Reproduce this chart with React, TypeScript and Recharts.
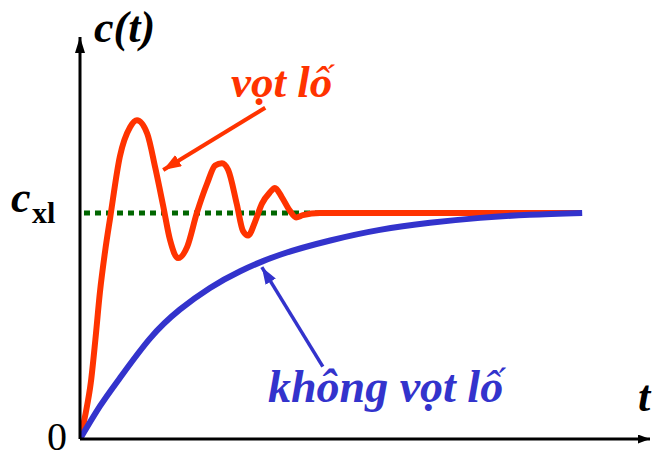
import { ComposedChart, Line, XAxis, YAxis, ReferenceLine } from "recharts";

// step response with overshoot (red)
const overshootT = [0, 0.1, 0.19, 0.27, 0.35, 0.44, 0.53, 0.7, 0.88, 1.0, 1.18, 1.32, 1.46, 1.58, 1.72, 1.88, 2.05, 2.23, 2.37, 2.49, 2.6, 2.75, 2.86, 2.95, 3.07, 3.19, 3.33, 3.42, 3.54, 3.68, 3.79, 3.91, 4.21, 5.5, 7.0, 8.8];
const overshootC = [0, 0.115, 0.25, 0.44, 0.65, 0.83, 0.98, 1.25, 1.38, 1.41, 1.35, 1.2, 1.03, 0.88, 0.8, 0.85, 1.0, 1.13, 1.21, 1.22, 1.19, 1.04, 0.92, 0.9, 0.96, 1.04, 1.09, 1.11, 1.07, 1.01, 0.98, 0.99, 1.0, 1.0, 1.0, 1.0];

// step response without overshoot (blue)
const smoothT = [0, 0.35, 0.7, 1.23, 1.75, 2.28, 2.81, 3.51, 4.39, 5.26, 6.14, 7.02, 7.89, 8.81];
const smoothC = [0, 0.145, 0.27, 0.445, 0.572, 0.668, 0.742, 0.815, 0.878, 0.925, 0.956, 0.978, 0.992, 1.0];

// steady-state level c_xl
const steadyT = [0.07, 8.8];
const steadyC = [1, 1];

const overshootData = overshootT.map((t, i) => ({ t, c: overshootC[i] }));
const smoothData = smoothT.map((t, i) => ({ t, c: smoothC[i] }));
const steadyData = steadyT.map((t, i) => ({ t, c: steadyC[i] }));

const RED = "#FF3300";
const BLUE = "#3333CC";
const GREEN = "#006600";
const FONT = "Liberation Serif";

export default function App() {
  return (
    <div style={{ position: "absolute", left: 0, top: 0, width: 652, height: 458, background: "#fff" }}>
      <svg width="0" height="0" style={{ position: "absolute" }}>
        <defs>
          <marker id="axArrowY" viewBox="0 0 10 10" refX="10" refY="5" markerWidth="16" markerHeight="10" markerUnits="userSpaceOnUse" orient="auto" preserveAspectRatio="none">
            <path d="M0,0 L10,5 L0,10 z" fill="#000" />
          </marker>
          <marker id="axArrowX" viewBox="0 0 10 10" refX="10" refY="5" markerWidth="12" markerHeight="9" markerUnits="userSpaceOnUse" orient="auto" preserveAspectRatio="none">
            <path d="M0,0 L10,5 L0,10 z" fill="#000" />
          </marker>
          <marker id="arrRed" viewBox="0 0 10 10" refX="10" refY="5" markerWidth="18" markerHeight="13" markerUnits="userSpaceOnUse" orient="auto" preserveAspectRatio="none">
            <path d="M0,0 L10,5 L0,10 z" fill={RED} />
          </marker>
          <marker id="arrBlue" viewBox="0 0 10 10" refX="10" refY="5" markerWidth="17" markerHeight="12" markerUnits="userSpaceOnUse" orient="auto" preserveAspectRatio="none">
            <path d="M0,0 L10,5 L0,10 z" fill={BLUE} />
          </marker>
        </defs>
      </svg>
      <ComposedChart width={652} height={458} margin={{ top: 37, right: 2, left: 80, bottom: 19 }}>
        <XAxis type="number" dataKey="t" domain={[0, 10]} allowDataOverflow hide />
        <YAxis type="number" dataKey="c" domain={[0, 1.778]} allowDataOverflow hide />
        <Line data={steadyData} dataKey="c" type="linear" stroke={GREEN} strokeWidth={5} strokeDasharray="6 5" dot={false} isAnimationActive={false} />
        <Line data={overshootData} dataKey="c" type="monotone" stroke={RED} strokeWidth={6} strokeLinejoin="round" dot={false} isAnimationActive={false} />
        <Line data={smoothData} dataKey="c" type="natural" stroke={BLUE} strokeWidth={6} dot={false} isAnimationActive={false} />
        {/* axes with arrows */}
        <ReferenceLine segment={[{ x: 0, y: 0 }, { x: 0, y: 1.778 }]} stroke="#000" strokeWidth={3} markerEnd="url(#axArrowY)" ifOverflow="visible" />
        <ReferenceLine segment={[{ x: 0, y: 0 }, { x: 10, y: 0 }]} stroke="#000" strokeWidth={3} markerEnd="url(#axArrowX)" ifOverflow="visible" />
        {/* annotation arrows */}
        <ReferenceLine segment={[{ x: 3.25, y: 1.465 }, { x: 1.46, y: 1.19 }]} stroke={RED} strokeWidth={4} markerEnd="url(#arrRed)" ifOverflow="visible" />
        <ReferenceLine segment={[{ x: 4.26, y: 0.32 }, { x: 3.19, y: 0.76 }]} stroke={BLUE} strokeWidth={3.5} markerEnd="url(#arrBlue)" ifOverflow="visible" />
      </ComposedChart>
      <svg width={652} height={458} style={{ position: "absolute", left: 0, top: 0, pointerEvents: "none" }}>
        <text x={94} y={42} fontFamily={FONT} fontSize={44} fontWeight="bold" fontStyle="italic" fill="#000">c(t)</text>
        <text x={638} y={411} fontFamily={FONT} fontSize={44} fontWeight="bold" fontStyle="italic" fill="#000">t</text>
        <text x={47} y={450} fontFamily={FONT} fontSize={40} fill="#000">0</text>
        <text x={11} y={212} fontFamily={FONT} fontSize={44} fontWeight="bold" fontStyle="italic" fill="#000">c</text>
        <text x={32} y={223} fontFamily={FONT} fontSize={30} fontWeight="bold" fill="#000">xl</text>
        <text x={231} y={97} fontFamily={FONT} fontSize={45} fontWeight="bold" fontStyle="italic" fill={RED}>vọt lố</text>
        <text x={268} y={402} fontFamily={FONT} fontSize={46} fontWeight="bold" fontStyle="italic" fill={BLUE}>không vọt lố</text>
      </svg>
    </div>
  );
}
